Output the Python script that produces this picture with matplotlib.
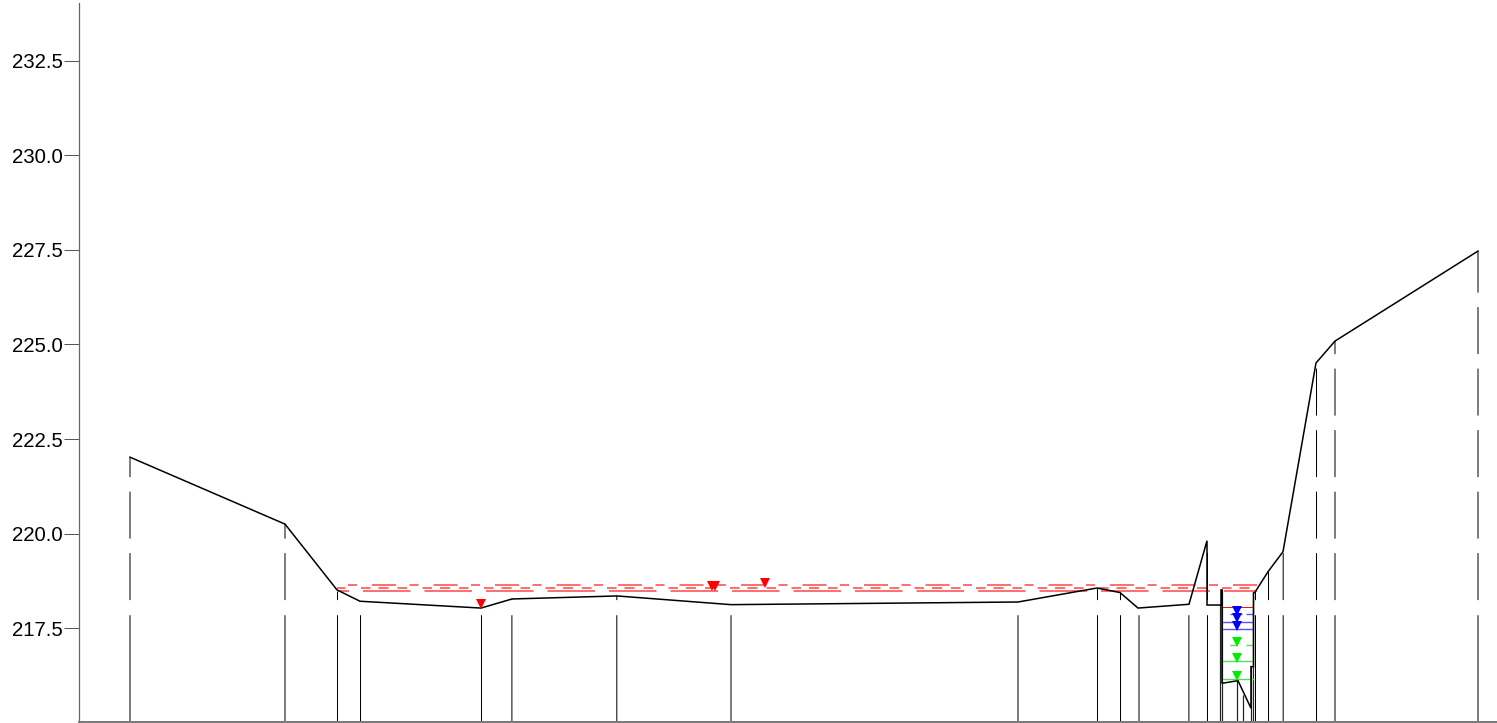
import matplotlib
matplotlib.use("Agg")
import matplotlib.pyplot as plt

plt.rcParams['font.family'] = ['Liberation Sans', 'DejaVu Sans']
plt.rcParams['lines.scale_dashes'] = False

# ground profile, x is station along the section
profile_x = [130, 285, 337, 360, 481, 512, 617, 731, 1018, 1097, 1120, 1138, 1189, 1207, 1207,
             1221, 1221, 1222, 1222, 1238, 1251, 1251, 1253.5, 1253.5, 1255, 1268, 1283, 1316, 1335, 1478]
profile_y = [222.02, 220.25, 218.51, 218.21, 218.03, 218.27, 218.35, 218.12, 218.19, 218.56, 218.44,
             218.03, 218.13, 219.81, 218.11, 218.11, 218.51, 218.51, 216.04, 216.11, 215.38, 216.48,
             216.48, 218.43, 218.45, 218.99, 219.52, 224.51, 225.09, 227.47]

# verticals at each station, broken by the same gaps
drop_x = [130, 285, 337.5, 360.5, 481.5, 511.9, 616.8, 731, 1018, 1097.5, 1120.5, 1139, 1188.9, 1207.5,
          1255.5, 1268.5, 1283.2, 1316.5, 1335, 1478]
drop_top = [222.02, 220.25, 218.51, 218.21, 218.03, 218.27, 218.35, 218.12, 218.19, 218.56, 218.44,
            218.03, 218.13, 219.81, 218.45, 218.99, 219.52, 224.51, 225.09, 227.47]
gap_low = 217.84
gap_high = 218.24

# solid verticals inside the culvert
wall_x = [1220.5, 1222.5, 1237.5, 1243.5, 1251.5, 1253.5]
wall_top = [218.11, 218.51, 216.11, 215.72, 216.48, 218.43]

# water surface
water_x = [337, 1257]
water_levels = [218.63, 218.55, 218.48]

red_level = 218.06
blue_levels = [217.88, 217.66, 217.47]
green_levels = [217.05, 216.63, 216.16]
inner_x = [1223, 1253]

red_tri_x = [481, 711.5, 714.5, 765]
red_tri_y = [218.15, 218.60, 218.60, 218.70]
blue_tri_x = [1237, 1237, 1237]
blue_tri_y = [217.95, 217.76, 217.55]
green_tri_x = [1237, 1237, 1237]
green_tri_y = [217.14, 216.72, 216.24]

yticks = [217.5, 220.0, 222.5, 225.0, 227.5, 230.0, 232.5]

PX = 0.72  # 1 pixel in points at dpi 100


def px_dash(offset, *pattern):
    return (offset * PX, [p * PX for p in pattern])


fig = plt.figure(figsize=(14.97, 7.23), dpi=100)
ax = fig.add_axes([79 / 1497, 1.5 / 723, 1418 / 1497, 718.5 / 723])
ax.set_xlim(79, 1497)
ax.set_ylim(215.03, 234.03)

for s in ['top', 'right']:
    ax.spines[s].set_visible(False)
ax.spines['left'].set_color('#666666')
ax.spines['left'].set_linewidth(0.9)
ax.spines['bottom'].set_color('#777777')
ax.spines['bottom'].set_linewidth(1.4)

ax.set_xticks([])
ax.set_yticks(yticks)
ax.set_yticklabels(['%.1f' % v for v in yticks], fontsize=14.7, color='black')
ax.tick_params(axis='y', length=15 * PX, width=PX, color='#555555', pad=1)

# solid below the first gap, dashed above it
low = ax.vlines(drop_x, 215.03, [min(t, gap_low) for t in drop_top], color='black', lw=PX)
low.set_snap(False)
up_x = [x for x, t in zip(drop_x, drop_top) if t > gap_high]
up_top = [t for t in drop_top if t > gap_high]
up = ax.vlines(up_x, gap_high, up_top, color='black', lw=PX, linestyles=[px_dash(0, 47, 14.5)])
up.set_snap(False)
walls = ax.vlines(wall_x, 215.03, wall_top, color='#222222', lw=1.2 * PX)
walls.set_snap(False)

# three dashed rows of the water surface
ax.plot(water_x, [water_levels[0]] * 2, color='#ff7070', lw=2 * PX,
        linestyle=px_dash(50.5, 9, 15, 24, 13.5))
ax.plot(water_x, [water_levels[1]] * 2, color='#ff7070', lw=2 * PX,
        linestyle=px_dash(37.5, 9.5, 8, 10, 9, 9.5, 15.5))
ax.plot(water_x, [water_levels[2]] * 2, color='#ff7070', lw=2 * PX,
        linestyle=px_dash(35.5, 47.5, 14))

ax.plot(inner_x, [red_level] * 2, color='#ee1111', lw=PX)
ax.plot([1230, 1253], [blue_levels[0]] * 2, color='#5555ff', lw=1.4 * PX, linestyle=px_dash(0, 12, 4))
ax.plot(inner_x, [blue_levels[1]] * 2, color='#5555ee', lw=1.4 * PX)
ax.plot(inner_x, [blue_levels[2]] * 2, color='#5555ee', lw=1.4 * PX)
ax.plot([1230, 1253], [green_levels[0]] * 2, color='#55dd55', lw=1.4 * PX, linestyle=px_dash(0, 7, 9))
ax.plot(inner_x, [green_levels[1]] * 2, color='#55dd55', lw=1.4 * PX)
ax.plot(inner_x, [green_levels[2]] * 2, color='#55dd55', lw=1.4 * PX)

ax.plot(profile_x, profile_y, color='black', lw=1.1, solid_joinstyle='miter', zorder=4)

ax.plot(red_tri_x, red_tri_y, 'v', color='#ff0000', ms=6.5, mew=0, zorder=5)
ax.plot(blue_tri_x, blue_tri_y, 'v', color='#0000ff', ms=6.5, mew=0, zorder=5)
ax.plot(green_tri_x, green_tri_y, 'v', color='#00ee00', ms=6.5, mew=0, zorder=5)

fig.savefig('out.png', dpi=100)
